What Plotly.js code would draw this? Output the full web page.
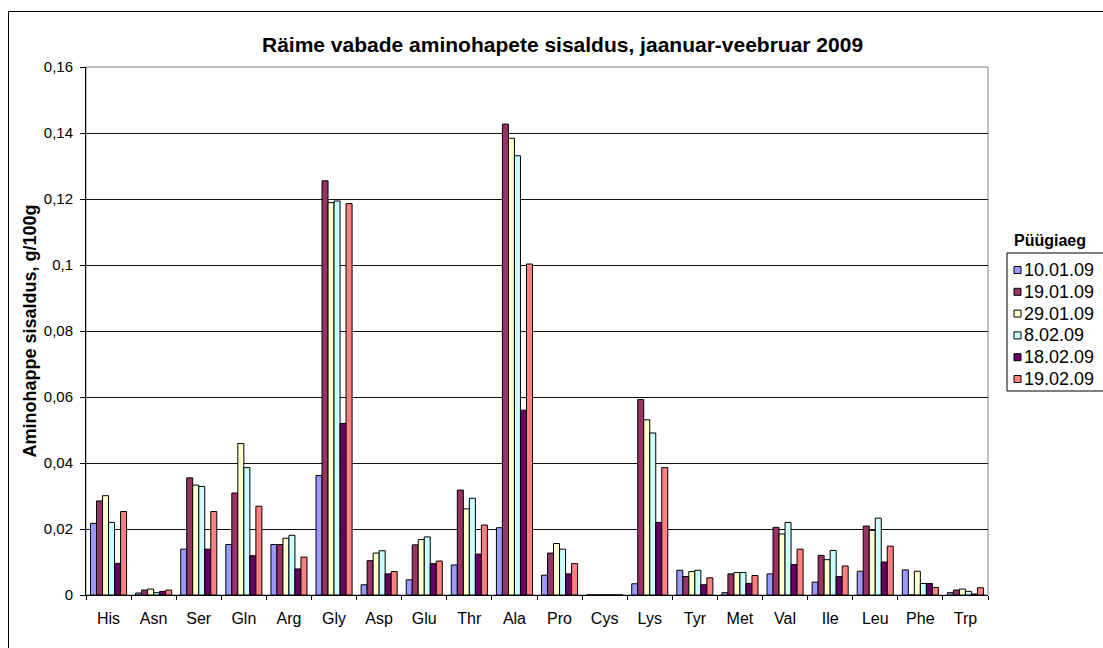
<!DOCTYPE html>
<html>
<head>
<meta charset="utf-8">
<script src="https://cdn.plot.ly/plotly-3.0.1.min.js"></script>
<style>
html,body{margin:0;padding:0;background:#fff;overflow:hidden;}
#frame{position:absolute;left:8px;top:11px;width:1200px;height:700px;border:1px solid #000;box-sizing:border-box;pointer-events:none;z-index:5;}
#chart{position:absolute;left:0;top:0;width:1103px;height:648px;}
</style>
</head>
<body>
<div id="chart"></div>
<div id="frame"></div>
<script>
const categories = ["His","Asn","Ser","Gln","Arg","Gly","Asp","Glu","Thr","Ala","Pro","Cys","Lys","Tyr","Met","Val","Ile","Leu","Phe","Trp"];
const seriesNames = ["10.01.09","19.01.09","29.01.09","8.02.09","18.02.09","19.02.09"];
const colors = ["#9999FF","#993366","#FFFFCC","#CCFFFF","#660066","#FF8080"];

const s_10_01 = [0.0217,0.0006,0.0139,0.0153,0.0153,0.0362,0.0031,0.0046,0.0091,0.0204,0.0060,0,0.0034,0.0075,0.0007,0.0064,0.0039,0.0072,0.0076,0.0007];
const s_19_01 = [0.0285,0.0015,0.0355,0.0309,0.0153,0.1255,0.0104,0.0152,0.0318,0.1427,0.0127,0,0.0592,0.0056,0.0064,0.0205,0.0120,0.0209,0,0.0015];
const s_29_01 = [0.0301,0.0018,0.0333,0.0459,0.0172,0.1189,0.0127,0.0168,0.0261,0.1384,0.0156,0,0.0531,0.0071,0.0068,0.0185,0.0107,0.0196,0.0072,0.0018];
const s_8_02  = [0.0220,0.0007,0.0329,0.0386,0.0181,0.1194,0.0134,0.0176,0.0293,0.1331,0.0139,0,0.0491,0.0075,0.0068,0.0220,0.0135,0.0233,0.0035,0.0011];
const s_18_02 = [0.0096,0.0011,0.0139,0.0119,0.0079,0.0520,0.0064,0.0095,0.0124,0.0560,0.0064,0,0.0220,0.0031,0.0035,0.0092,0.0056,0.0100,0.0035,0.0003];
const s_19_02 = [0.0253,0.0015,0.0253,0.0269,0.0115,0.1186,0.0071,0.0103,0.0212,0.1003,0.0095,0,0.0386,0.0052,0.0059,0.0139,0.0088,0.0148,0.0023,0.0022];

const yTicks = [0,0.02,0.04,0.06,0.08,0.1,0.12,0.14,0.16];
const yTickText = ["0","0,02","0,04","0,06","0,08","0,1","0,12","0,14","0,16"];

const allSeries = [s_10_01,s_19_01,s_29_01,s_8_02,s_18_02,s_19_02];
const data = allSeries.map((vals,i)=>({
  type:'bar',
  name:seriesNames[i],
  x:categories,
  y:vals,
  marker:{color:colors[i], line:{color:'#000', width:1}}
}));

// plot area geometry (pixels) used to place the hand-drawn legend
const W = 1103, H = 648, L = 86, R = 115, T = 67, B = 53;
const pw = W - L - R, ph = H - T - B;
const px = v => (v - L) / pw;          // pixel x -> paper x
const py = v => (H - B - v) / ph;      // pixel y -> paper y

const legendTop = 253, legendBottom = 391, legendLeft = 1007, rowStart = 270, rowStep = 21.8;
const shapes = [
  {type:'rect', xref:'paper', yref:'paper', x0:0, x1:1, y0:0, y1:1,
   line:{color:'#808080', width:1}, layer:'below'},
  {type:'rect', xref:'paper', yref:'paper', x0:px(legendLeft), x1:px(1120), y0:py(legendBottom), y1:py(legendTop),
   line:{color:'#000', width:1}, fillcolor:'#fff'}
];
const annotations = [
  {text:'<b>Püügiaeg</b>', xref:'paper', yref:'paper', x:px(1012), xanchor:'left',
   y:py(240), yanchor:'middle', showarrow:false, font:{size:16}}
];
seriesNames.forEach((n,i)=>{
  const cy = rowStart + i*rowStep;
  shapes.push({type:'rect', xref:'paper', yref:'paper', x0:px(1014), x1:px(1021), y0:py(cy+3.5), y1:py(cy-3.5),
               line:{color:'#000', width:1}, fillcolor:colors[i]});
  annotations.push({text:n, xref:'paper', yref:'paper', x:px(1022), xanchor:'left',
                    y:py(cy), yanchor:'middle', showarrow:false, font:{size:18}});
});

const layout = {
  width:W, height:H,
  paper_bgcolor:'#fff', plot_bgcolor:'#fff',
  margin:{l:L, r:R, t:T, b:B},
  font:{family:'Liberation Sans, Arial, sans-serif', size:16, color:'#000'},
  title:{text:'<b>Räime vabade aminohapete sisaldus, jaanuar-veebruar 2009</b>',
         font:{family:'Liberation Sans, Arial, sans-serif', size:21, color:'#000'},
         x:0.51, xanchor:'center', y:1-45/648, yanchor:'middle'},
  barmode:'group', bargap:0.2, bargroupgap:0,
  showlegend:false,
  xaxis:{type:'category', showline:true, linecolor:'#000', linewidth:1,
         ticks:'outside', ticklen:4, tickcolor:'#000', tickson:'boundaries',
         ticklabelstandoff:9,
         showgrid:false, tickfont:{size:16}, fixedrange:true},
  yaxis:{range:[0,0.16], tickvals:yTicks, ticktext:yTickText,
         showline:true, linecolor:'#000', linewidth:1,
         ticks:'outside', ticklen:5, tickcolor:'#000', ticklabelstandoff:4,
         showgrid:true, gridcolor:'#111', gridwidth:1, zeroline:false,
         tickfont:{size:15},
         title:{text:'<b>Aminohappe sisaldus, g/100g</b>', font:{size:18}, standoff:2}},
  shapes:shapes,
  annotations:annotations
};

Plotly.newPlot('chart', data, layout, {displayModeBar:false, staticPlot:true});
</script>
</body>
</html>
